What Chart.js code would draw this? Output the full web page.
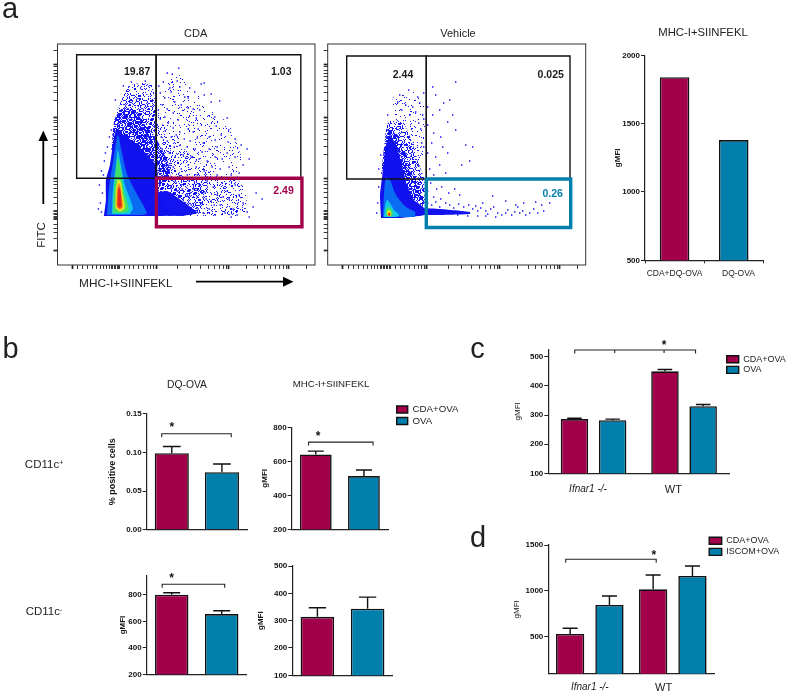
<!DOCTYPE html>
<html><head><meta charset="utf-8">
<script src="https://cdn.jsdelivr.net/npm/chart.js@4"></script>
<style>
html,body{margin:0;padding:0;background:#fff;overflow:hidden;width:790px;height:692px}
#page{position:relative;width:790px;height:692px;filter:blur(.3px)}
canvas{position:absolute}
.t{position:absolute;white-space:nowrap;font-family:"Liberation Sans",Arial,sans-serif;color:#222;line-height:1;transform:translate(-50%,-50%)}
.t sup{font-size:.6em;vertical-align:baseline;position:relative;top:-.45em}
svg{position:absolute;left:0;top:0}
</style></head><body><div id="page">
<svg width="790" height="692">
 <path d="M196 281.7H284M43.3 204V140" stroke="#000" stroke-width="1.8" fill="none"/>
 <path d="M283 276.7L293.5 281.7L283 286.7ZM38.5 141L43.3 130.5L48 141Z" fill="#000"/>
</svg>
</div>
<script>
// ---------- values ----------
const CRIMSON='#a2004b', TEAL='#007fad', INK='#1c1c1c';
const FONT='"Liberation Sans", Arial, sans-serif';

const a3Labels=['CDA+DQ-OVA','DQ-OVA'];            const a3Values=[1840,1380];
const b1Values=[0.099,0.0745];  const b1Tops=[0.1078,0.0850];
const b2Values=[640,513];       const b2Tops=[660,549];
const b3Values=[802,656];       const b3Tops=[817,681];
const b4Values=[314,344];       const b4Tops=[347,386];
const pairLabels=['CDA+OVA','OVA'];
const groupLabels=['Ifnar1 -/-','WT'];
const cCda=[286,450];   const cOva=[282,330];
const cCdaTops=[289,456]; const cOvaTops=[286,336];
const dCda=[532,1018];  const dIscom=[848,1163];
const dCdaTops=[594,1174]; const dIscomTops=[946,1272];

// flow axes, in channels
const flowXTicks=[15.2,20.5,25.5,30.5,35.5,39.5,43.5,46.5,49.5,52.5,54,55.5,57,58.5,60,61.5,62.5,67.5,72.5,76.5,81.5,86.5,90.5,93.5,96.5,99.2,120.5,133.5,143.5,151.5,157.5,162.5,166.5,169.5,171.5,189.5,200.5,207.5,213.5,218.5,222.5,226.5,229.5,231.5,249.5];
const flowXMajor=[15.2,99.2,171.5,231.5];
const flowYTicks=[215,201,198,195,192,189,184,179,173,164,148,145,142,139,135,131,126,119,111,87,84,81,77,73,68,62,55,53.5,52,50.5,49,48,47,46,41,37,33,27,15];
const flowYMajor=[201,148,87,50,15];

// CDA density contours (channel x, channel y)
const cdaBlue=[[46.5,49],[48.5,65],[48.5,85],[52.5,100],[55.5,120],[58.5,135],[66.5,130],[78,122],[90,110],[98.5,100],[100.5,80],[102.5,66],[112.5,55],[127.5,50],[102.5,49]];
const cdaAzure=[[49.5,50],[52,80],[56,105],[60.5,130],[64,115],[70,90],[80,70],[89.5,52],[85,50]];
const cdaCyan=[[54.5,51],[55.5,75],[58.5,100],[60.5,115],[63.5,100],[67.5,80],[75.5,57],[72.5,51]];
const cdaGreen=[[55.5,52],[56.5,75],[58.5,95],[60.5,107],[63.5,95],[66.5,75],[71.5,55],[66.5,52]];
const cdaYellow=[[58,57],[58.5,75],[60.5,85],[63.5,83],[65.5,70],[67.5,57],[62.5,53]];
const cdaOrange=[[59,58],[59.5,73],[61,82],[63,79],[64.5,68],[65.5,58],[62.5,55]];
const cdaRed=[[60,60],[60.5,73],[61.5,78],[63,75],[64,65],[64,58],[61.5,57]];
// CDA speckled regions
const cdaHeavy=[[54,115],[57,145],[64,156],[76,156],[88,140],[98,128],[110,105],[113,88],[100,80],[100,100],[80,115]];
const cdaMid=[[55,130],[60,155],[68,168],[80,172],[92,170],[99,165],[99,100]];
const cdaCap=[[62,160],[70,178],[82,182],[94,181],[99,178],[99,160]];
const cdaNear=[[99,145],[106,140],[125,118],[145,100],[155,88],[100,88]];
const cdaFar=[[99,150],[105,180],[122,190],[145,165],[172,140],[185,105],[180,88],[100,88]];
const cdaCorePink=[[100,50],[100,72],[110,74],[128,62],[140,52],[125,49]];
const cdaMidPink=[[99,49],[99,86],[148,86],[152,70],[145,49]];
const cdaLightPink=[[140,49],[148,86],[180,86],[190,72],[188,49]];
// CDA single events
const cdaDots=[
[54,135],[52,128],[50,118],[47,104],[44,94],[42,80],[48,112],[45,72],[43,62],[46,90],[41,56],[44,53],[66,179],[74,183],[88,184],[58,165],
[121.5,196.7],[110,192],[115,190.7],[106,183],[120,184],[101.5,179],[147,182],[144,181],[112.5,177],[122.5,178],[137.5,173],[132.5,177],[114,173],[147,170],[154,171],[127.5,168],[131,167],[107.5,167],[154,163],[162.5,164],[117.5,163],[124,160],[131,157],[136,156],[142.5,155],[157.5,148],[170,147],[139,147],[116,152],[121,145],[107.5,148],[111,142],[159,139],[131,136],[141,136],[171.5,135],[136,133],[122.5,133],[116,137],[103,172],[105,160],[101,155],[110,156],[103,146],[100,140],[108,134],[114,128],[119,130],[127,126],[133,124],[140,127],[146,122],[152,128],[158,125],[164,130],[171,123],[178,126],[184,120],[190,116],[160,118],[152,116],[145,113],[138,116],[130,118],[123,120],[117,118],[110,124],[104,128],[178,108],[186,100],[192,106],[170,112],[165,106],[158,108],[150,104],[142,106],[134,108],[126,110],[118,108],[112,112],[105,116],[100,120],[172,98],[163,96],[155,98],[147,94],[139,98],[131,100],[124,96],[116,98],[108,104],[102,108],[182,92],[174,90],[160,90],[150,88],[140,90],[130,90],[122,88],[112,92],[104,96],[100,100],
[205,66],[196,58],[190,53],[186,62],[182,70],[178,80],[176,56],[172,66],[170,74],[168,52],[165,82],[163,60],[160,70],[158,50],[156,78],[154,64],[152,56],[150,84],[148,72],[146,52],[144,62],[142,80],[140,68],[138,54],[136,76],[134,60],[132,84],[130,70],[128,52],[126,66],[124,80],[122,58],[120,74],[118,84],[116,62],[114,78],[180,50],[192,48],[174,48],[199,72],[166,68],[157,60],[149,66],[141,56],[133,72],[125,76],[119,82],[111,80],[106,84],[103,80]
];

// Vehicle density contours
const vehBlue=[[53.3,47],[52.3,70],[55.3,95],[58.3,120],[62.3,130],[68.3,120],[74.3,100],[79.3,80],[86.3,65],[96.3,57],[96.3,50],[72.3,47]];
const vehAzure=[[55.3,48],[56.3,70],[58.3,87],[62.3,85],[68.3,70],[78.3,58],[87.3,53],[87.3,48]];
const vehCyan=[[56.3,48],[57.3,58],[59.3,65],[62.3,62],[66.3,55],[71.3,50],[68.3,48]];
const vehGreen=[[58.3,50],[58.3,55],[60.3,58],[63.3,56],[65.3,51],[63.3,48]];
const vehYellow=[[59.3,50],[59.8,54],[61.3,55],[63.3,53],[63.3,49.5],[61.3,48.5]];
const vehRed=[[60.3,50],[60.8,52],[62.3,52],[62.8,50],[61.3,49]];
const vehBand=[[92.3,57],[112.3,56],[142.3,53],[142.3,51],[112.3,50],[92.3,50]];
const vehHeavy=[[54,95],[57,122],[62,136],[70,130],[78,112],[86,90],[96,65],[96,58],[80,70]];
const vehMid=[[56,110],[59,140],[66,146],[76,142],[84,124],[92,98],[97,86],[97,60],[85,80]];
const vehLight=[[60,138],[66,168],[88,174],[97,166],[97,88],[88,110],[80,135],[70,146]];
// Vehicle single events
const vehDots=[
[81,175],[72,170],[90,168],[96,172],[70,163],[78,160],[85,158],[92,162],[60,150],[74,155],[82,150],[88,153],[95,150],[91,142],[96,146],[93,136],[94,122],[96,118],[57,108],[54,92],[51,78],[50,62],[49,52],[51,96],[53,110],[58,128],[60,135],
[105,178],[128,183],[108,170],[122,165],[116,162],[112,155],[100,158],[105,150],[120,143],[128,135],[100,140],[106,132],[113,128],[104,122],[115,118],[100,112],[108,108],[120,112],[112,100],[102,96],[118,92],[106,90],[125,150],[138,120],[145,118],[142,104],[134,100],[103,82],[109,76],[114,78],[121,72],[127,76],[132,70],[106,68],[100,74],[113,66],[145,86],
[100,62],[104,60],[108,63],[112,58],[118,62],[122,60],[126,57],[131,61],[136,58],[141,60],[145,56],[148,59],[150,54],[153,57],[155,62],[158,54],[160,51],[163,56],[166,58],[170,52],[174,50],[178,52],[180,55],[184,50],[187,53],[190,58],[192,52],[195,54],[198,50],[202,52],[206,56],[210,52],[214,60],[216,54],[196,62],[188,60],[178,64],[165,69],[208,63],[222,62],[120,52],[130,50],[140,49],[150,49],[158,49],[168,48]
];

// gates: channel corner lists
const cdaGateLeft=[[19.2,86.7],[19.2,210.3],[98.8,210.3],[98.8,86.7],[19.2,86.7]];
const cdaGateRight=[[98.8,86.7],[98.8,210.3],[243.8,210.3],[243.8,86.7]];
const cdaGatePink=[[99.1,86.7],[99.1,38.3],[244.9,38.3],[244.9,86.7],[99.1,86.7]];
const vehGateLeft=[[19,86],[19,209],[98.6,209],[98.6,86],[19,86]];
const vehGateRight=[[98.6,86],[98.6,209],[242.3,209],[242.3,86]];
const vehGateTeal=[[98.6,86],[98.6,37.5],[243,37.5],[243,86],[98.6,86]];
const cdaGateTexts=[['19.87',79.8,192.7,INK],['1.03',224.2,192.7,INK],['2.49',226.5,73.7,CRIMSON]];
const vehGateTexts=[['2.44',75.3,190,INK],['0.025',223,190,INK],['0.26',225,71,TEAL]];

// ---------- plugins ----------
const errBars={id:'errBars',afterDatasetsDraw(ch,_,o){
  if(!o.tops)return; const c=ch.ctx,y=ch.scales.y; c.save();c.strokeStyle='#111';c.lineWidth=1.4;
  o.tops.forEach((arr,d)=>{ch.getDatasetMeta(d).data.forEach((b,i)=>{
    const p=y.getPixelForValue(arr[i]);
    c.beginPath();c.moveTo(b.x,b.y);c.lineTo(b.x,p);c.moveTo(b.x-o.cap/2,p);c.lineTo(b.x+o.cap/2,p);c.stroke();
  });});c.restore();}};
const bracket={id:'bracket',afterDatasetsDraw(ch,_,o){
  if(o.value===undefined)return; const c=ch.ctx,x=ch.scales.x,y=ch.scales.y,p=y.getPixelForValue(o.value);
  c.save();c.strokeStyle='#222';c.lineWidth=1.1;c.beginPath();
  const a=x.getPixelForValue(o.from),b=x.getPixelForValue(o.to);
  c.moveTo(a,p+3.5);c.lineTo(a,p);c.lineTo(b,p);c.lineTo(b,p+3.5);
  (o.mids||[]).forEach(m=>{const q=x.getPixelForValue(m);c.moveTo(q,p);c.lineTo(q,p+3);});
  c.stroke();
  c.fillStyle='#111';c.font='bold 12px '+FONT;c.textAlign='center';c.textBaseline='middle';
  c.fillText('*',x.getPixelForValue(o.star),p-o.starUp);c.restore();}};
const frame={id:'frame',beforeDatasetsDraw(ch,_,o){
  if(!o.on)return;const a=ch.chartArea,c=ch.ctx;c.save();c.strokeStyle='#333';c.lineWidth=1;
  c.strokeRect(a.left,a.top,a.right-a.left,a.bottom-a.top);c.restore();}};
const gateText={id:'gateText',afterDatasetsDraw(ch,_,o){
  if(!o.items)return;const c=ch.ctx;c.save();c.font='bold 10.5px '+FONT;c.textAlign='center';c.textBaseline='middle';
  o.items.forEach(([t,x,y,col])=>{c.fillStyle=col;c.fillText(t,ch.scales.x.getPixelForValue(x),ch.scales.y.getPixelForValue(y));});c.restore();}};
Chart.register(errBars,bracket,frame,gateText);
Chart.defaults.animation=false;
Chart.defaults.responsive=false;
Chart.defaults.font.family=FONT;
Chart.defaults.color=INK;
Chart.defaults.plugins.legend.display=false;
Chart.defaults.plugins.tooltip.enabled=false;

// ---------- layout ----------
const page=document.getElementById('page');
function addCanvas(l,t,w,h){const c=document.createElement('canvas');c.width=w;c.height=h;
  c.style.cssText=`left:${l}px;top:${t}px;width:${w}px;height:${h}px`;page.appendChild(c);return c;}
function plot(area,m,cfg,xOpt,yOpt){
  const L=Math.floor(area[0]-m[0]),T=Math.floor(area[2]-m[1]),W=Math.ceil(area[1]+m[2])-L,H=Math.ceil(area[3]+m[3])-T;
  const cv=addCanvas(L,T,W,H);
  cfg.options=cfg.options||{};
  cfg.options.layout={padding:{left:0,top:area[2]-T,right:L+W-area[1],bottom:0}};
  cfg.options.scales={
    x:Object.assign(xOpt,{afterFit(s){s.height=T+H-area[3];}}),
    y:Object.assign(yOpt,{afterFit(s){s.width=area[0]-L;}})};
  if(yOpt.title&&yOpt.titleX!==undefined){yOpt.title.padding={top:yOpt.titleX-L-yOpt.title.font.size*.6,bottom:0};}
  return new Chart(cv,cfg);
}
const solidAxis={color:'#222',width:1.2};
function yAxis(min,max,step,title,titleX,bold,fmt){
  return {min,max,
   border:solidAxis,
   afterBuildTicks(s){const t=[];for(let v=Math.ceil(min/step-1e-9);v*step<=max+1e-9;v++)t.push({value:v*step});s.ticks=t;},
   grid:{drawOnChartArea:false,color:'#222',tickLength:4,tickWidth:1},
   ticks:{padding:1,color:'#111',font:{size:8,weight:'bold'},callback:fmt||(v=>Math.round(v))},
   titleX,
   title:{display:true,text:title,color:'#111',font:{size:title[0]==='%'?9:8,weight:bold?'bold':'normal'}}};
}
function xHidden(){return {border:solidAxis,grid:{display:false,drawTicks:false},ticks:{display:false}};}
function singleBars(labels,values,pct){return {type:'bar',data:{labels,datasets:[{label:'gMFI',data:values,
  backgroundColor:[CRIMSON,TEAL],borderColor:'#111',borderWidth:1.6,barPercentage:pct,categoryPercentage:1}]}};}

// panel a, bar chart
plot([645,763.3,55.3,260.3],[40,6,8,22],singleBars(a3Labels,a3Values,.5),
 {border:solidAxis,grid:{drawOnChartArea:false,color:'#222',tickLength:3},
  ticks:{padding:5,color:'#222',autoSkip:false,maxRotation:0,minRotation:0,font:{size:8.5},callback(v,i){return (i===1?'    ':'')+this.getLabelForValue(v);}}},
 yAxis(500,2000,500,'gMFI',617.7,true));

// panel b
function bChart(area,values,tops,pct,cap,ymin,ymax,step,title,titleX,bold,fmt,br){
  const cfg=singleBars(pairLabels,values,pct);
  cfg.options={plugins:{errBars:{tops:[tops],cap},bracket:br||{}}};
  plot(area,[40,22,6,6],cfg,xHidden(),yAxis(ymin,ymax,step,title,titleX,bold,fmt));
}
bChart([146.7,247,414,529.5],b1Values,b1Tops,.68,17.7,0,.15,.05,'% positive cells',112.3,true,v=>v.toFixed(2),
  {value:.1244,from:-.2,to:1.186,star:0,starUp:6});
bChart([291.7,388,427.3,529.3],b2Values,b2Tops,.66,16,200,800,200,'gMFI',264.3,true,null,
  {value:713,from:-.15,to:1.19,star:.05,starUp:5.5});
bChart([146.7,246.7,575.7,674.3],b3Values,b3Tops,.67,17,200,946,200,'gMFI',122.7,true,null,
  {value:881,from:-.19,to:1.06,star:0,starUp:5.5});
bChart([292.3,392.7,566,675.3],b4Values,b4Tops,.67,17.3,100,500,100,'gMFI',261,true);

// panels c and d
function groupX(padding,tailSpaces){
  return {border:solidAxis,grid:{display:false,drawTicks:false},
   ticks:{padding,color:'#222',autoSkip:false,maxRotation:0,
     font:ctx=>ctx.index===0?{size:10,style:'italic'}:{size:11},
     callback(v,i){return this.getLabelForValue(v)+' '.repeat(tailSpaces[i]);}}};
}
function groupChart(area,names,a,b,tops,cp,bp,cap,ymin,ymax,step,titleX,pad,tails,br,m){
  const cfg={type:'bar',data:{labels:groupLabels,datasets:[
    {label:names[0],data:a,backgroundColor:CRIMSON,borderColor:'#111',borderWidth:1.6,categoryPercentage:cp,barPercentage:bp},
    {label:names[1],data:b,backgroundColor:TEAL,borderColor:'#111',borderWidth:1.6,categoryPercentage:cp,barPercentage:bp}]},
    options:{plugins:{errBars:{tops,cap},bracket:br}}};
  plot(area,m,cfg,groupX(pad,tails),yAxis(ymin,ymax,step,'gMFI',titleX,false));
}
groupChart([548.3,729.3,349.3,473.3],['CDA+OVA','OVA'],cCda,cOva,[cCdaTops,cOvaTops],.844,.72,14.5,100,525.4,100,517.7,10,[4,7],
  {value:523,from:-.208,to:1.127,mids:[.234,.779],star:.779,starUp:4.5},[40,15,6,26]);
groupChart([548.3,714.3,545,673.7],['CDA+OVA','ISCOM+OVA'],dCda,dIscom,[dCdaTops,dIscomTops],.947,.72,15,100,1500,500,516.7,8,[0,6],
  {value:1345,from:-.29,to:.8,star:.77,starUp:4},[40,8,6,18]);

// legends
function legendChart(l,t,names,size,pad,boxW){
  const cv=addCanvas(l,t,170,42);
  new Chart(cv,{type:'bar',data:{labels:[],datasets:names.map((n,i)=>({label:n,data:[],backgroundColor:i?TEAL:CRIMSON,borderColor:'#111',borderWidth:1.4}))},
   options:{layout:{padding:0},scales:{x:{display:false},y:{display:false}},
    plugins:{legend:{display:true,position:'left',align:'start',maxWidth:160,onClick:null,
      labels:{boxWidth:boxW,boxHeight:7,padding:pad,color:'#222',font:{size}}}}}});
}
legendChart(395,403,['CDA+OVA','OVA'],9.7,1.7,11);
legendChart(725,353,['CDA+OVA','OVA'],9,1.7,12);
legendChart(707,534,['CDA+OVA','ISCOM+OVA'],9,2.2,12.5);

// speckle textures for regions too dense to list event by event
function speckle(level){
  const n=97,c=document.createElement('canvas');c.width=c.height=n;const x=c.getContext('2d');x.fillStyle='#1414f2';
  for(let i=0;i<n;i++)for(let j=0;j<n;j++)if((i*i*7+j*j*13+i*j*5+i*3)%97<level)x.fillRect(i,j,1,1);
  return x.createPattern(c,'repeat');
}
const SPECK_HEAVY=speckle(66),SPECK_MID=speckle(36),SPECK_LIGHT=speckle(16),SPECK_SPARSE=speckle(6);

// flow plots
function poly(data,color,order,tension){return {type:'scatter',data:data.map(([x,y])=>({x,y})),showLine:true,fill:'shape',tension:tension===undefined?.3:tension,
   backgroundColor:color,borderColor:'rgba(0,0,0,0)',borderWidth:0,pointRadius:0,order};}
function gate(data,color,w,order){return {type:'scatter',data:data.map(([x,y])=>({x,y})),showLine:true,fill:false,
   borderColor:color,borderWidth:w,pointRadius:0,order,borderJoinStyle:'miter',borderCapStyle:'square'};}
function dots(data,order){return {type:'scatter',data:data.map(([x,y])=>({x,y})),pointStyle:'rect',pointRadius:1,
   backgroundColor:'#1010f8',borderWidth:0,order};}
function flowAxis(min,max,list,major){
  return {type:'linear',min,max,border:{display:false},
   afterBuildTicks(s){s.ticks=list.map(value=>({value}));},
   grid:{drawOnChartArea:false,tickLength:4,tickColor:'#222',tickWidth:c=>c.tick&&major.includes(c.tick.value)?1.7:.9},
   ticks:{display:false,autoSkip:false}};
}
function flowChart(area,sets,texts){
  plot(area,[8,6,6,8],{type:'scatter',data:{datasets:sets},options:{plugins:{frame:{on:true},gateText:{items:texts}}}},
    flowAxis(0,258,flowXTicks,flowXMajor),flowAxis(0,221,flowYTicks,flowYMajor));
}
flowChart([57.5,315,44,265],[
  gate(cdaGatePink,CRIMSON,3.4,1),gate(cdaGateLeft,'#111',1.4,2),gate(cdaGateRight,'#111',1.4,3),
  poly(cdaRed,'#e62a1c',4),poly(cdaOrange,'#f28a1c',5),poly(cdaYellow,'#e6e620',6),poly(cdaGreen,'#3fe06a',7),poly(cdaCyan,'#12c8e6',8),poly(cdaAzure,'#0a6cf2',9),
  poly(cdaBlue,'#1212ee',10,.15),
  poly(cdaCorePink,'#1414f0',11,.15),
  dots(cdaDots,12),
  poly(cdaHeavy,SPECK_HEAVY,13,.15),poly(cdaMid,SPECK_MID,14,.15),poly(cdaCap,SPECK_LIGHT,15,.15),
  poly(cdaNear,SPECK_LIGHT,16,.15),poly(cdaFar,SPECK_SPARSE,17,.15),
  poly(cdaMidPink,SPECK_MID,18,.1),poly(cdaLightPink,SPECK_LIGHT,19,.1)
],cdaGateTexts);
flowChart([327.7,585.7,44,265],[
  gate(vehGateTeal,TEAL,3.4,1),gate(vehGateLeft,'#111',1.4,2),gate(vehGateRight,'#111',1.4,3),
  poly(vehRed,'#e62a1c',4),poly(vehYellow,'#e6e620',5),poly(vehGreen,'#3fe06a',6),poly(vehCyan,'#12c8e6',7),poly(vehAzure,'#0a6cf2',8),
  poly(vehBand,'#1212ee',9,.15),poly(vehBlue,'#1212ee',10,.15),
  dots(vehDots,11),
  poly(vehHeavy,SPECK_HEAVY,12,.15),poly(vehMid,SPECK_MID,13,.15),poly(vehLight,SPECK_SPARSE,14,.15)
],vehGateTexts);

// ---------- page text ----------
function txt(html,x,y,size,extra){const d=document.createElement('div');d.className='t';d.innerHTML=html;
  d.style.left=x+'px';d.style.top=y+'px';d.style.fontSize=size+'px';if(extra)d.style.cssText+=extra;page.appendChild(d);}
txt('a',10,8,29);txt('b',10.5,348,29);txt('c',477.5,348,29);txt('d',478,537,29);
txt('CDA',195.7,33,11);txt('Vehicle',458,33,11);txt('MHC-I+SIINFEKL',703,33,11.3);
txt('MHC-I+SIINFEKL',125.8,284,11.8);
txt('FITC',41.7,235,11.5,'transform:translate(-50%,-50%) rotate(-90deg);');
txt('DQ-OVA',187,385,10.3);txt('MHC-I+SIINFEKL',331,383.5,9.7);
txt('CD11c<sup>+</sup>',44,465,11.5);txt('CD11c<sup>-</sup>',44,611.7,11.5);
</script></body></html>
